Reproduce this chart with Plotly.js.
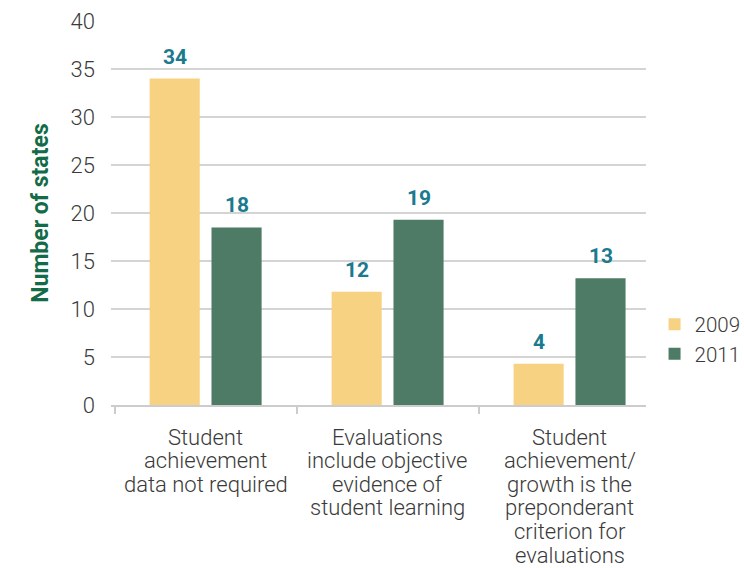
<!DOCTYPE html>
<html>
<head>
<meta charset="utf-8">
<script src="https://cdn.plot.ly/plotly-3.0.1.min.js"></script>
<style>html,body{margin:0;padding:0;background:#fff;}#chart{width:744px;height:568px;}</style>
</head>
<body>
<div id="chart"></div>
<script>
var categories = [
  "Student<br>achievement<br>data not required",
  "Evaluations<br>include objective<br>evidence of<br>student learning",
  "Student<br>achievement/<br>growth is the<br>preponderant<br>criterion for<br>evaluations"
];
var seriesNames = ["2009", "2011"];
var values2009 = [34, 11.8, 4.3];
var values2011 = [18.5, 19.3, 13.2];
var labels2009 = ["34", "12", "4"];
var labels2011 = ["18", "19", "13"];
var yTicks = [0, 5, 10, 15, 20, 25, 30, 35, 40];

var colors = ["#F8D283", "#4E7B66"];
var FONT = "Roboto, 'DejaVu Sans', sans-serif";
var labelFont = {family: FONT, size: 21, color: "#1B7A8E"};
var textFont = {family: FONT, size: 22, color: "#3a3a3a", weight: 300};
var legendFont = {family: FONT, size: 20.5, color: "#3a3a3a", weight: 300};

var traces = [
  {type: "bar", name: seriesNames[0], x: categories, y: values2009, marker: {color: colors[0]}, hoverinfo: "none"},
  {type: "bar", name: seriesNames[1], x: categories, y: values2011, marker: {color: colors[1]}, hoverinfo: "none"}
];

var annotations = [];
[[values2009, labels2009, -31], [values2011, labels2011, 31]].forEach(function (s) {
  s[0].forEach(function (v, i) {
    annotations.push({
      x: categories[i], y: v, xref: "x", yref: "y", text: "<b>" + s[1][i] + "</b>",
      showarrow: false, xshift: s[2], yshift: 8, yanchor: "bottom", font: labelFont
    });
  });
});
// category labels, one line per annotation for tight line spacing
categories.forEach(function (c) {
  c.split("<br>").forEach(function (line, j) {
    annotations.push({
      x: c, y: 0, xref: "x", yref: "paper", text: line, showarrow: false,
      yanchor: "middle", yshift: -32 - 23.6 * j, font: textFont
    });
  });
});

var layout = {
  width: 744, height: 568,
  margin: {l: 111, r: 98, t: 21, b: 163, autoexpand: false},
  paper_bgcolor: "#ffffff", plot_bgcolor: "#ffffff",
  font: {family: FONT, color: "#3a3a3a"},
  barmode: "group", bargap: 0.32, bargroupgap: 0.19,
  showlegend: true,
  legend: {x: 1.016, xanchor: "left", y: 0.262, yanchor: "top", font: legendFont, bgcolor: "rgba(0,0,0,0)", itemwidth: 30},
  xaxis: {
    type: "category", range: [-0.52, 2.42], fixedrange: true,
    showgrid: false, showline: true, linecolor: "#cccccc", linewidth: 2,
    ticks: "outside", tickson: "boundaries", ticklen: 7, tickcolor: "#cccccc", tickwidth: 2,
    showticklabels: false, automargin: false
  },
  yaxis: {
    range: [0, 40], tickvals: yTicks, fixedrange: true,
    showgrid: true, gridcolor: "#d4d4d4", gridwidth: 1.5, zeroline: false, showline: false,
    tickfont: textFont, ticklabelstandoff: 15, automargin: false,
    title: {text: "<b>Number of states</b>", font: {family: FONT, size: 23, color: "#136B48"}, standoff: 15}
  },
  annotations: annotations,
  // right-end boundary tick of the x axis
  shapes: [{type: "line", xref: "paper", yref: "y", x0: 1, x1: 1, y0: 0, y1: -0.73, line: {color: "#cccccc", width: 2}}]
};

Plotly.newPlot("chart", traces, layout, {displayModeBar: false, staticPlot: true});
</script>
</body>
</html>
